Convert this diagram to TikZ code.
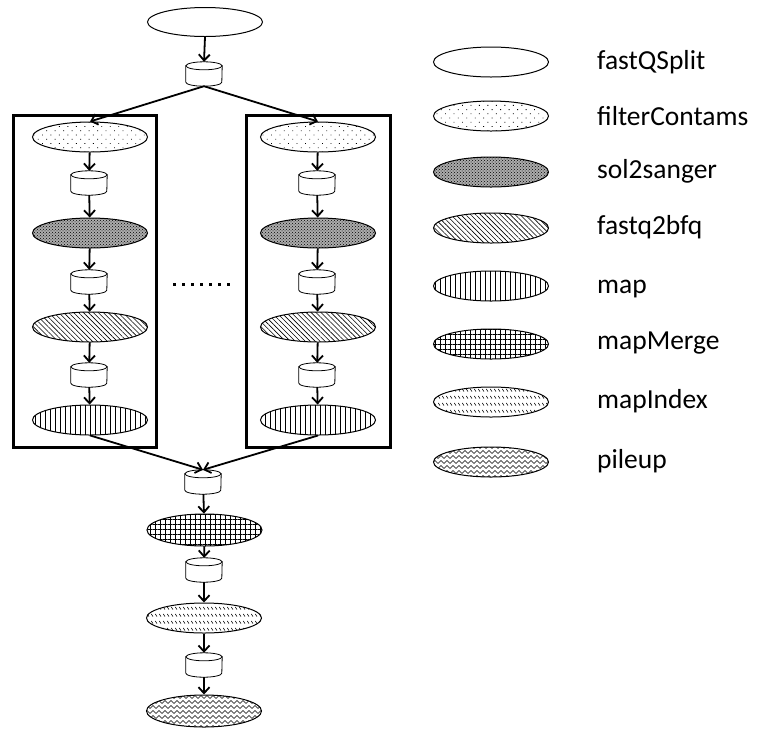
\documentclass[tikz,border=0pt]{standalone}
\usepackage{fontspec}
\setmainfont{Carlito}
\usetikzlibrary{arrows.meta,patterns,patterns.meta,calc,shapes.geometric}
\pgfdeclarepatternformonly{shortdash}{\pgfpointorigin}{\pgfpoint{3.5pt}{7pt}}{\pgfpoint{3.5pt}{7pt}}{\pgfsetlinewidth{0.6pt}\pgfpathmoveto{\pgfpoint{0.3pt}{4.5pt}}\pgfpathlineto{\pgfpoint{2.3pt}{1.5pt}}\pgfusepath{stroke}}
\pgfdeclarepatternformonly{zigzag}{\pgfpoint{0pt}{-0.5pt}}{\pgfpoint{6pt}{4.5pt}}{\pgfpoint{6pt}{5pt}}{\pgfsetlinewidth{0.6pt}\pgfpathmoveto{\pgfpoint{0pt}{0.5pt}}\pgfpathlineto{\pgfpoint{3pt}{3.5pt}}\pgfpathlineto{\pgfpoint{6pt}{0.5pt}}\pgfusepath{stroke}}
\tikzset{
  job/.style={ellipse, draw, line width=1pt, minimum width=115pt, minimum height=30pt, inner sep=0pt},
  pA/.style={job, fill=white},
  pB/.style={job, pattern={Dots[distance=6pt,radius=0.6pt,angle=45]}},
  pC/.style={job, preaction={fill=gray!65}, pattern=crosshatch dots},
  pD/.style={job, pattern={Lines[angle=-45,distance=3.5pt,line width=0.6pt]}},
  pE/.style={job, pattern={Lines[angle=90,distance=5pt,line width=0.8pt]}},
  pF/.style={job, pattern={Hatch[angle=0,distance=5pt,line width=0.8pt]}},
  pG/.style={job, pattern=shortdash},
  pH/.style={job, pattern=zigzag},
  cylbox/.style={rectangle, draw=none, minimum width=36pt, minimum height=24pt, inner sep=0pt},
  cylline/.style={draw, line width=0.8pt, fill=white},
  flow/.style={-{Straight Barb[length=6pt,width=11pt]}, line width=1.8pt},
  boxline/.style={line width=3pt},
  dotline/.style={line width=3pt, dash pattern=on 3pt off 6pt},
  lab/.style={anchor=base west, font=\fontsize{27.5}{31}\selectfont, inner sep=0pt}
}
\newcommand\mycyl[3]{%
  \node[cylbox] (#1) at (#2,#3) {};
  \draw[cylline] ($(#1.north west)+(0,4)$) -- ($(#1.south west)+(0,-4)$)
     arc[start angle=180,end angle=0,x radius=18,y radius=4] -- ($(#1.north east)+(0,4)$) -- cycle;
  \draw[cylline] ($(#1.north)+(0,4)$) ellipse[x radius=18, y radius=4];
}
\begin{document}
\begin{tikzpicture}[x=1pt,y=-1pt]
\useasboundingbox (0,0) rectangle (758,729);
% boxes
\draw[boxline] (13,115) rectangle (156,447);
\draw[boxline] (246,115) rectangle (390,447);
\draw[dotline] (173,284) -- (233,284);
% top
\node[pA, minimum height=29pt] (e0) at (205,22) {};
\mycyl{c0}{204}{74}
% left column
\node[pB] (L1) at (90,137) {};
\mycyl{Lc1}{89}{183}
\node[pC] (L2) at (90,233) {};
\mycyl{Lc2}{89}{282}
\node[pD] (L3) at (90,327) {};
\mycyl{Lc3}{89}{375}
\node[pE] (L4) at (90,420) {};
% right column
\node[pB] (R1) at (318,137) {};
\mycyl{Rc1}{317}{183}
\node[pC] (R2) at (318,233) {};
\mycyl{Rc2}{317}{282}
\node[pD] (R3) at (318,327) {};
\mycyl{Rc3}{317}{375}
\node[pE] (R4) at (318,420) {};
% bottom
\mycyl{cm}{203}{482}
\node[pF, minimum height=32pt] (M1) at (204.5,530) {};
\mycyl{cm2}{204}{570}
\node[pG] (M2) at (204,618) {};
\mycyl{cm3}{204}{665}
\node[pH, minimum height=32pt] (M3) at (204,711) {};
% connectors
\draw[flow] (e0.south) -- (c0.north);
\draw[flow] (c0.south) -- (L1.north);
\draw[flow] (c0.south) -- (R1.north);
\draw[flow] (L1) -- (Lc1);
\draw[flow] (Lc1) -- (L2);
\draw[flow] (L2) -- (Lc2);
\draw[flow] (Lc2) -- (L3);
\draw[flow] (L3) -- (Lc3);
\draw[flow] (Lc3) -- (L4);
\draw[flow] (R1) -- (Rc1);
\draw[flow] (Rc1) -- (R2);
\draw[flow] (R2) -- (Rc2);
\draw[flow] (Rc2) -- (R3);
\draw[flow] (R3) -- (Rc3);
\draw[flow] (Rc3) -- (R4);
\draw[flow] (L4.south) -- (cm.north);
\draw[flow] (R4.south) -- (cm.north);
\draw[flow] (cm) -- (M1);
\draw[flow] (M1) -- (cm2);
\draw[flow] (cm2) -- (M2);
\draw[flow] (M2) -- (cm3);
\draw[flow] (cm3) -- (M3);
% legend
\node[pA] (g1) at (491,62) {};
\node[pB] (g2) at (491,116) {};
\node[pC] (g3) at (491,172) {};
\node[pD] (g4) at (491,228) {};
\node[pE] (g5) at (491,286) {};
\node[pF] (g6) at (491,344) {};
\node[pG] (g7) at (491,402) {};
\node[pH] (g8) at (491,462) {};
\node[lab] (t1) at (597,69) {fastQSplit};
\node[lab] (t2) at (597,125) {filterContams};
\node[lab] (t3) at (597,178) {sol2sanger};
\node[lab] (t4) at (597,234) {fastq2bfq};
\node[lab] (t5) at (597,293) {map};
\node[lab] (t6) at (597,349) {mapMerge};
\node[lab] (t7) at (597,408) {mapIndex};
\node[lab] (t8) at (597,468) {pileup};
\end{tikzpicture}
\end{document}
